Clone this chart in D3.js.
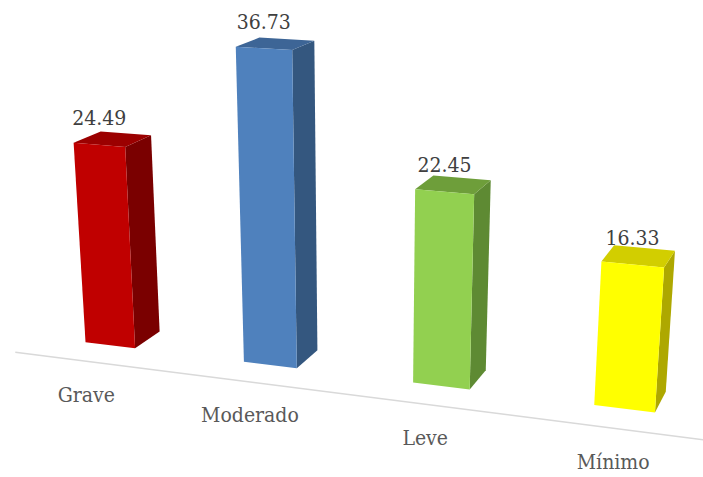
<!DOCTYPE html>
<html>
<head>
<meta charset="utf-8">
<script src="https://cdn.jsdelivr.net/npm/d3@7"></script>
<style>
  html, body { margin: 0; padding: 0; background: #fff; }
  svg text { font-family: "DejaVu Serif Condensed", "DejaVu Serif", serif; font-stretch: condensed; }
</style>
</head>
<body>
<div id="chart"></div>
<script>
const categories = ["Grave", "Moderado", "Leve", "Mínimo"];
const values = [24.49, 36.73, 22.45, 16.33];
const valueLabels = ["24.49", "36.73", "22.45", "16.33"];
const frontColors = ["#C00000", "#4F81BD", "#92D050", "#FFFF00"];
const sideColors = ["#7A0000", "#34577F", "#5E8A33", "#AEA800"];
const topColors = ["#9B0000", "#3D6596", "#6E9E3A", "#D2CE00"];

const width = 703, height = 477;

const svg = d3.select("#chart").append("svg")
    .attr("width", width)
    .attr("height", height);

// world coordinates: X along categories, Y up, Z depth
const x = d3.scaleBand()
    .domain(categories)
    .range([0, 716])
    .paddingInner(0.68)
    .paddingOuter(0.34);
const y = d3.scaleLinear()
    .domain([0, 40])
    .range([0, 344]);
const depth = x.bandwidth();
const floorZ = -0.9 * depth;

// simple perspective camera
const yaw = 19.5 * Math.PI / 180, pitch = 20 * Math.PI / 180;
const focal = 1690, dist = 1690;
const target = { x: 358, y: 0, z: depth / 2 };
const cx = 364, cy = 366;

function project(X, Y, Z) {
    const px = X - target.x, py = Y - target.y, pz = Z - target.z;
    const x1 = px * Math.cos(yaw) + pz * Math.sin(yaw);
    const z1 = -px * Math.sin(yaw) + pz * Math.cos(yaw);
    const y2 = py * Math.cos(pitch) + z1 * Math.sin(pitch);
    const z2 = -py * Math.sin(pitch) + z1 * Math.cos(pitch) + dist;
    return [cx + focal * x1 / z2, cy - focal * y2 / z2];
}
const poly = pts => "M" + pts.map(p => project(...p).join(",")).join("L") + "Z";

// floor front edge (category axis line)
const [lx1, ly1] = project(8, 0, floorZ);
const [lx2, ly2] = project(x.range()[1] + 10, 0, floorZ);
svg.append("line")
    .attr("x1", lx1).attr("y1", ly1)
    .attr("x2", lx2).attr("y2", ly2)
    .attr("stroke", "#D9D9D9")
    .attr("stroke-width", 1.5);

const bars = svg.append("g").selectAll("g")
    .data(categories.map((c, i) => ({ cat: c, value: values[i], i: i })))
    .enter().append("g");

bars.append("path")
    .attr("d", d => {
        const x1 = x(d.cat) + x.bandwidth(), h = y(d.value);
        return poly([[x1, 0, 0], [x1, 0, depth], [x1, h, depth], [x1, h, 0]]);
    })
    .attr("fill", d => sideColors[d.i]);

bars.append("path")
    .attr("d", d => {
        const x0 = x(d.cat), x1 = x0 + x.bandwidth(), h = y(d.value);
        return poly([[x0, h, 0], [x1, h, 0], [x1, h, depth], [x0, h, depth]]);
    })
    .attr("fill", d => topColors[d.i]);

bars.append("path")
    .attr("d", d => {
        const x0 = x(d.cat), x1 = x0 + x.bandwidth(), h = y(d.value);
        return poly([[x0, 0, 0], [x1, 0, 0], [x1, h, 0], [x0, h, 0]]);
    })
    .attr("fill", d => frontColors[d.i]);

// value labels, above the front top edge
bars.append("text")
    .attr("x", d => project(x(d.cat) + x.bandwidth() / 2, y(d.value), 0)[0])
    .attr("y", d => project(x(d.cat) + x.bandwidth() / 2, y(d.value), 0)[1] - 27)
    .attr("dy", "0.35em")
    .attr("text-anchor", "middle")
    .style("font-size", "21px")
    .style("fill", "#404040")
    .text(d => valueLabels[d.i]);

// category labels
bars.append("text")
    .attr("x", d => project(x(d.cat) + x.bandwidth() / 2, 0, floorZ)[0])
    .attr("y", d => project(x(d.cat) + x.bandwidth() / 2, 0, floorZ)[1] + 33)
    .attr("dy", "0.35em")
    .attr("text-anchor", "middle")
    .style("font-size", "21px")
    .style("fill", "#595959")
    .text(d => d.cat);
</script>
</body>
</html>
